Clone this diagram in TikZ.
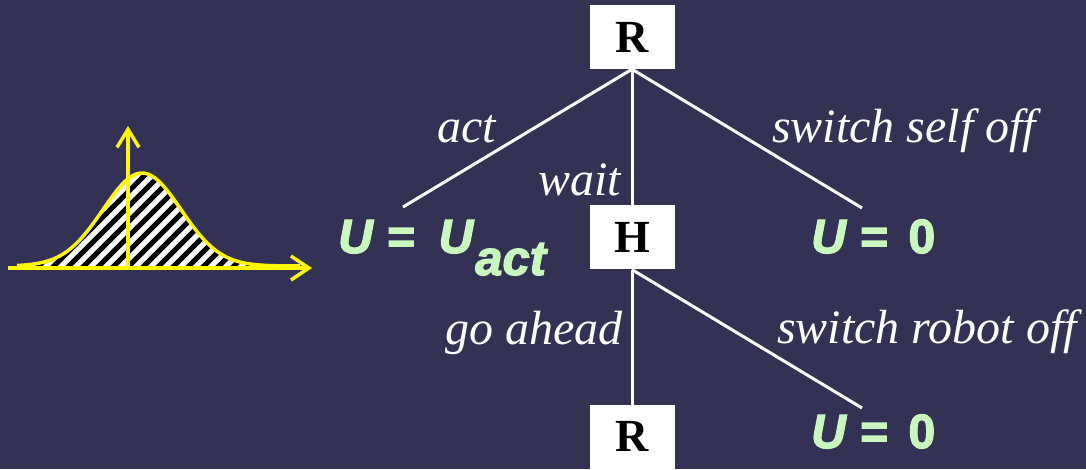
\documentclass[tikz,border=0pt]{standalone}
\usepackage{fontspec}
\setmainfont{Liberation Serif}[ItalicFont={Liberation Serif Italic},BoldFont={Liberation Serif Bold}]
\newfontfamily\payofffont[FakeBold=2.5]{Liberation Sans}
\usetikzlibrary{positioning,arrows.meta}
\definecolor{bg-navy}{RGB}{52,50,84}
\definecolor{u-green}{RGB}{200,248,190}
\definecolor{axis-yellow}{RGB}{255,248,0}

\tikzset{
  state/.style={fill=white, minimum width=85pt, minimum height=64pt, inner sep=0pt,
    font=\fontsize{46}{50}\selectfont\bfseries},
  move/.style={white, line width=3pt},
  movelabel/.style={text=white, anchor=base west, inner sep=0pt,
    font=\fontsize{48}{52}\selectfont\itshape},
  payoff/.style={text=u-green, anchor=base west, inner sep=0pt,
    font=\payofffont\fontsize{48}{52}\selectfont\bfseries},
  belief/.style={axis-yellow, line width=3.5pt},
}

\begin{document}
\begin{tikzpicture}[x=1pt,y=-1pt]
    \fill[bg-navy] (0,0) rectangle (1086,469);
    \useasboundingbox (0,0) rectangle (1086,469);

    % prior over U_act
    \begin{scope}
      \clip plot[domain=17:300,samples=90] (\x,{266-93*exp(-0.5*((\x-142)/39)^2)})
        -- (300,268) -- (17,268) -- cycle;
      \fill[white] (0,100) rectangle (320,270);
      \foreach \i in {-160,-145,...,320}
        \draw[black, line width=5pt] (\i,270) -- ++(160,-160);
    \end{scope}
    \draw[belief] plot[domain=17:300,samples=90] (\x,{266-93*exp(-0.5*((\x-142)/39)^2)});
    \coordinate (xaxis0) at (8,268);
    \coordinate (xaxis1) at (312,268);
    \coordinate (yaxis0) at (128,268);
    \coordinate (yaxis1) at (128,126);
    \draw[belief, -{Straight Barb[length=18pt,width=24pt]}] (xaxis0) -- (xaxis1);
    \draw[belief, -{Straight Barb[length=18pt,width=22pt]}] (yaxis0) -- (yaxis1);

    % game tree
    \node[state] (r1) at (632,37) {R};
    \node[state, below=136pt of r1] (h) {H};
    \node[state, below=135pt of h] (r2) {R};

    \coordinate (actend) at (403,207);
    \coordinate (selfoffend) at (862,208);
    \coordinate (robotoffend) at (862,408);

    \draw[move] (r1.south) -- (actend);
    \draw[move] (r1.south) -- (h.north);
    \draw[move] (r1.south) -- (selfoffend);
    \draw[move] (h.south) -- (r2.north);
    \draw[move] (h.south) -- (robotoffend);

    \node[movelabel] (actlbl) at (437,142) {act};
    \node[movelabel] (waitlbl) at (538,195) {wait};
    \node[movelabel] (selfofflbl) at (772,142) {switch self off};
    \node[movelabel] (aheadlbl) at (445,344) {go ahead};
    \node[movelabel] (robotofflbl) at (777,343) {switch robot off};

    \node[payoff] (uact) at (338,253)
      {\textit{U} =\hspace{10pt} \textit{U\hspace{2pt}\raisebox{-22pt}{\fontsize{49}{50}\selectfont act}}};
    \node[payoff] (uself) at (811,253) {\textit{U} =\hspace{7pt} 0};
    \node[payoff] (urobot) at (811,448) {\textit{U} =\hspace{7pt} 0};
\end{tikzpicture}
\end{document}
